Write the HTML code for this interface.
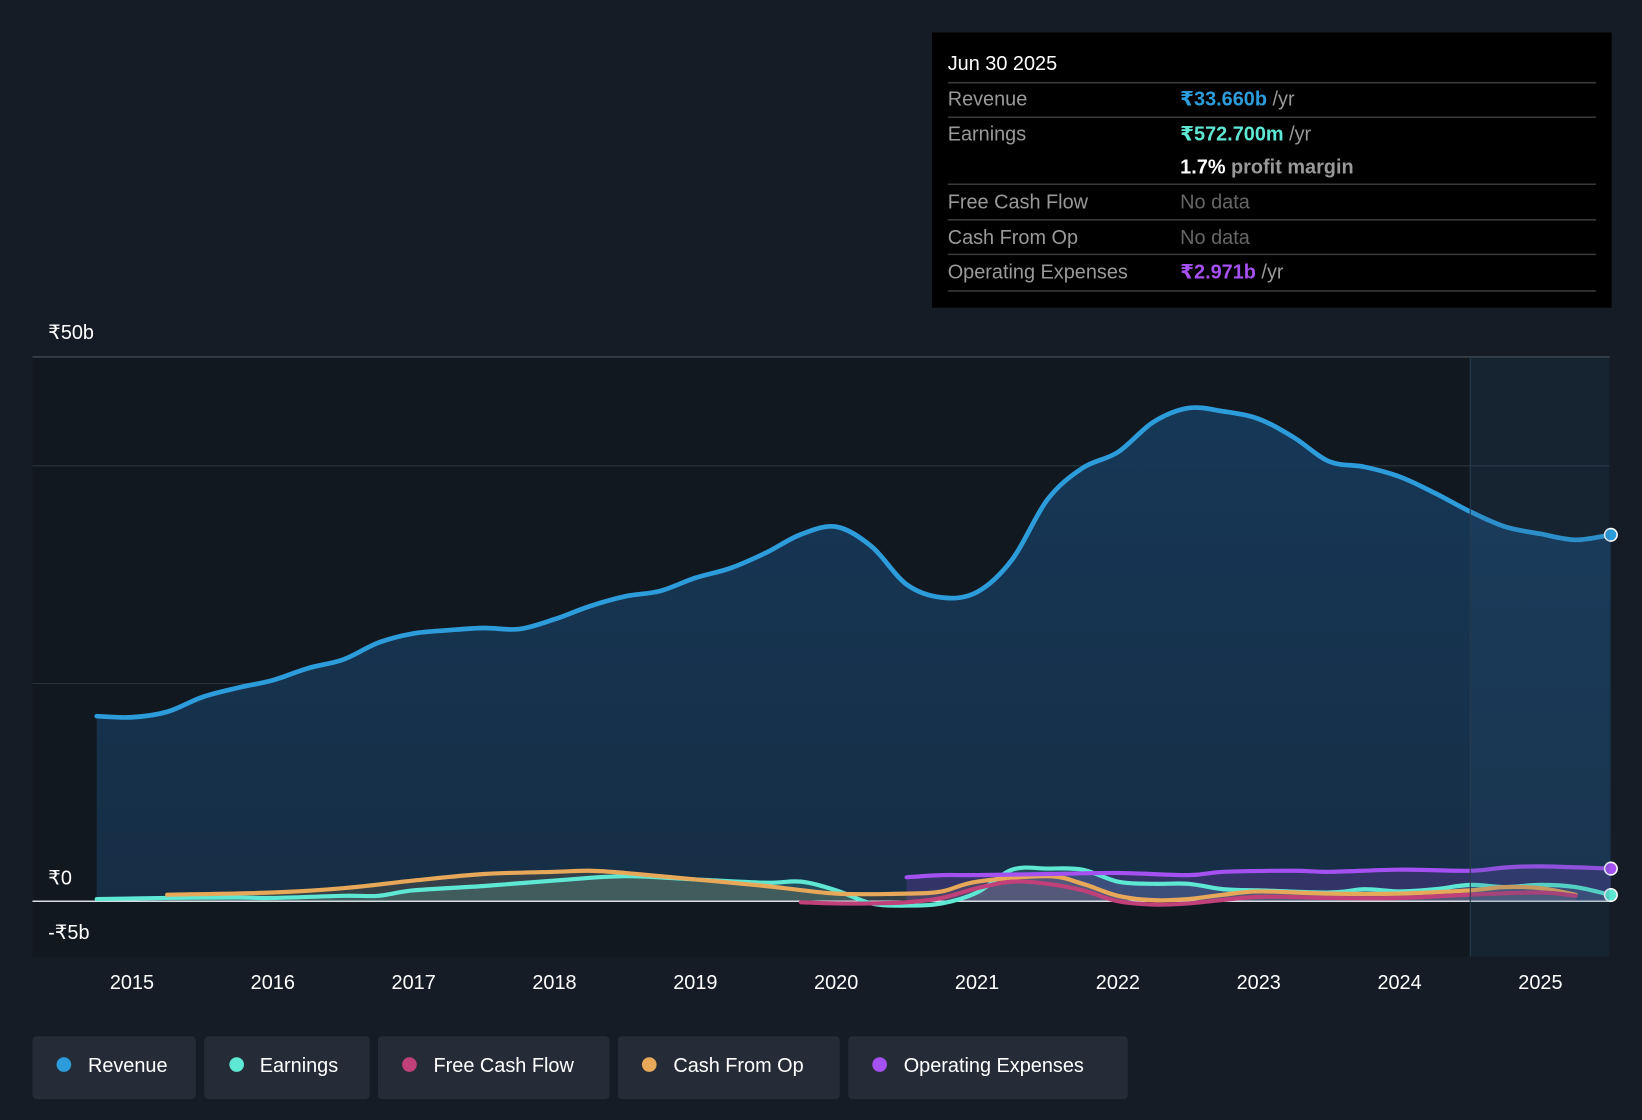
<!DOCTYPE html>
<html><head><meta charset="utf-8"><style>
html,body{margin:0;padding:0;background:#161c25;width:1642px;height:1120px;overflow:hidden}
svg text{font-family:"Liberation Sans","DejaVu Sans",sans-serif}
</style></head><body>
<svg id="chart" width="1642" height="1120" viewBox="0 0 1568 1070" preserveAspectRatio="none" xmlns="http://www.w3.org/2000/svg">
<defs>
<linearGradient id="revFill" x1="0" y1="0" x2="0" y2="1"><stop offset="0" stop-color="#17395a" stop-opacity="0.95"/><stop offset="1" stop-color="#163049" stop-opacity="0.9"/></linearGradient>
</defs>
<rect x="0" y="0" width="1568" height="1070" fill="#161c25"/>
<rect x="31" y="341" width="1506" height="573" fill="#121820"/>
<g id="grid"></g>
<g id="series"></g>
<rect x="1404" y="341" width="133" height="573" fill="#2a5a80" opacity="0.18"/>
<line x1="1404" y1="341" x2="1404" y2="914" stroke="#2a3b4c" stroke-width="1"/>
<g id="xaxis"></g>
<text x="46" y="324" fill="#fff" font-size="19">₹50b</text>
<text x="46" y="845" fill="#fff" font-size="19">₹0</text>
<text x="46" y="897" fill="#fff" font-size="19">-₹5b</text>

<g>
<rect x="890" y="31" width="649" height="263" fill="#000"/>
<text x="905" y="67" fill="#fff" font-size="19">Jun 30 2025</text>
<line x1="905" y1="79" x2="1524" y2="79" stroke="#3a3a3a" stroke-width="1.5"/>
<text x="905" y="101" fill="#999" font-size="19">Revenue</text>
<text x="1127" y="101" font-size="19" font-weight="bold" fill="#2d9cdb">₹33.660b <tspan fill="#999" font-weight="normal">/yr</tspan></text>
<line x1="905" y1="112" x2="1524" y2="112" stroke="#3a3a3a" stroke-width="1.5"/>
<text x="905" y="134" fill="#999" font-size="19">Earnings</text>
<text x="1127" y="134" font-size="19" font-weight="bold" fill="#5ee8d4">₹572.700m <tspan fill="#999" font-weight="normal">/yr</tspan></text>
<text x="1127" y="166" font-size="19" font-weight="bold" fill="#fff">1.7% <tspan fill="#999">profit margin</tspan></text>
<line x1="905" y1="176" x2="1524" y2="176" stroke="#3a3a3a" stroke-width="1.5"/>
<text x="905" y="199" fill="#999" font-size="19">Free Cash Flow</text>
<text x="1127" y="199" fill="#666" font-size="19">No data</text>
<line x1="905" y1="210" x2="1524" y2="210" stroke="#3a3a3a" stroke-width="1.5"/>
<text x="905" y="233" fill="#999" font-size="19">Cash From Op</text>
<text x="1127" y="233" fill="#666" font-size="19">No data</text>
<line x1="905" y1="243" x2="1524" y2="243" stroke="#3a3a3a" stroke-width="1.5"/>
<text x="905" y="266" fill="#999" font-size="19">Operating Expenses</text>
<text x="1127" y="266" font-size="19" font-weight="bold" fill="#a550f0">₹2.971b <tspan fill="#999" font-weight="normal">/yr</tspan></text>
<line x1="905" y1="278" x2="1524" y2="278" stroke="#3a3a3a" stroke-width="1.5"/>
</g>

<g>
<g><rect x="31" y="990" width="156" height="60" rx="4" fill="#262c37"/><circle cx="61" cy="1017" r="7" fill="#2d9cdb"/><text x="84" y="1024" fill="#fff" font-size="19">Revenue</text></g>
<g><rect x="195" y="990" width="158" height="60" rx="4" fill="#262c37"/><circle cx="226" cy="1017" r="7" fill="#5ee8d4"/><text x="248" y="1024" fill="#fff" font-size="19">Earnings</text></g>
<g><rect x="361" y="990" width="221" height="60" rx="4" fill="#262c37"/><circle cx="391" cy="1017" r="7" fill="#c0407a"/><text x="414" y="1024" fill="#fff" font-size="19">Free Cash Flow</text></g>
<g><rect x="590" y="990" width="212" height="60" rx="4" fill="#262c37"/><circle cx="620" cy="1017" r="7" fill="#e8a85a"/><text x="643" y="1024" fill="#fff" font-size="19">Cash From Op</text></g>
<g><rect x="810" y="990" width="267" height="60" rx="4" fill="#262c37"/><circle cx="840" cy="1017" r="7" fill="#a550f0"/><text x="863" y="1024" fill="#fff" font-size="19">Operating Expenses</text></g>
</g>
</svg>
<script>
const revYears=[2014.75,2015,2015.25,2015.5,2015.75,2016,2016.25,2016.5,2016.75,2017,2017.25,2017.5,2017.75,2018,2018.25,2018.5,2018.75,2019,2019.25,2019.5,2019.75,2020,2020.25,2020.5,2020.75,2021,2021.25,2021.5,2021.75,2022,2022.25,2022.5,2022.75,2023,2023.25,2023.5,2023.75,2024,2024.25,2024.5,2024.75,2025,2025.25,2025.5];
const revenue=[17.0,16.9,17.4,18.75,19.6,20.3,21.4,22.2,23.75,24.6,24.9,25.1,25.0,25.9,27.1,28.0,28.5,29.7,30.6,32.0,33.7,34.4,32.6,29.1,27.9,28.4,31.4,36.9,39.8,41.25,44.0,45.3,45.0,44.3,42.6,40.4,39.9,39.0,37.5,35.8,34.4,33.75,33.2,33.66];
const earnYears=[2014.75,2015.25,2015.75,2016,2016.5,2016.75,2017,2017.5,2018,2018.5,2019,2019.5,2019.75,2020,2020.25,2020.5,2020.75,2021,2021.25,2021.5,2021.75,2022,2022.25,2022.5,2022.75,2023,2023.5,2023.75,2024,2024.25,2024.5,2024.75,2025,2025.25,2025.5];
const earnings=[0.2,0.3,0.35,0.3,0.5,0.5,1.0,1.4,1.9,2.3,2.0,1.7,1.8,1.0,-0.2,-0.4,-0.2,0.8,2.9,3.0,2.9,1.8,1.6,1.6,1.1,1.0,0.8,1.1,0.9,1.1,1.5,1.3,1.5,1.3,0.57];
const cfoYears=[2015.25,2016,2016.5,2017,2017.5,2018,2018.25,2018.5,2019,2019.5,2020,2020.5,2020.75,2021,2021.5,2021.75,2022,2022.25,2022.5,2022.75,2023,2023.5,2024,2024.5,2024.75,2025,2025.25];
const cashFromOp=[0.6,0.8,1.2,1.9,2.5,2.7,2.8,2.6,2.0,1.4,0.7,0.7,0.9,1.8,2.3,1.6,0.5,0.1,0.2,0.6,0.9,0.7,0.7,1.0,1.3,1.2,0.6];
const fcfYears=[2019.75,2020,2020.25,2020.5,2020.75,2021,2021.25,2021.5,2021.75,2022,2022.25,2022.5,2023,2023.5,2024,2024.5,2025,2025.25];
const freeCashFlow=[-0.1,-0.2,-0.2,-0.1,0.3,1.2,1.8,1.6,1.0,0.0,-0.3,-0.2,0.4,0.3,0.3,0.6,0.8,0.5];
const opxYears=[2020.5,2020.75,2021,2021.5,2022,2022.5,2022.75,2023.25,2023.5,2024,2024.5,2024.75,2025,2025.5];
const opex=[2.2,2.4,2.4,2.5,2.6,2.4,2.7,2.8,2.7,2.9,2.8,3.1,3.2,3.0];
const xTicks=[2015,2016,2017,2018,2019,2020,2021,2022,2023,2024,2025];
const gridVals=[40,20];

const NS="http://www.w3.org/2000/svg";
const X=y=>126+(y-2015)*134.5;
const Y=v=>861-v*10.4;
function pathD(xs,vs){
  const p=xs.map((x,i)=>[X(x),Y(vs[i])]);
  let d=`M${p[0][0]},${p[0][1]}`;
  for(let i=0;i<p.length-1;i++){
    const p0=p[Math.max(0,i-1)],p1=p[i],p2=p[i+1],p3=p[Math.min(p.length-1,i+2)];
    const c1=[p1[0]+(p2[0]-p0[0])/6,p1[1]+(p2[1]-p0[1])/6];
    const c2=[p2[0]-(p3[0]-p1[0])/6,p2[1]-(p3[1]-p1[1])/6];
    d+=` C${c1[0]},${c1[1]} ${c2[0]},${c2[1]} ${p2[0]},${p2[1]}`;
  }
  return d;
}
const gridG=document.getElementById('grid');
gridVals.forEach(v=>{
  const l=document.createElementNS(NS,'line');
  
  
  l.setAttribute('x1',31);l.setAttribute('x2',1537);l.setAttribute('y1',Y(v));l.setAttribute('y2',Y(v));
  l.setAttribute('stroke','#2a323d');l.setAttribute('stroke-width','1');
  gridG.appendChild(l);
});
const topLine=document.createElementNS(NS,'line');


topLine.setAttribute('x1',31);topLine.setAttribute('x2',1537);topLine.setAttribute('y1',Y(50));topLine.setAttribute('y2',Y(50));
topLine.setAttribute('stroke','#4a525c');topLine.setAttribute('stroke-width','1');
gridG.appendChild(topLine);

const ser=document.getElementById('series');
function area(xs,vs,fill,name){
  const a=document.createElementNS(NS,'path');
  
  
  a.setAttribute('d',pathD(xs,vs)+` L${X(xs[xs.length-1])},${Y(0)} L${X(xs[0])},${Y(0)} Z`);
  a.setAttribute('fill',fill);
  ser.appendChild(a);
}
function line(xs,vs,color,name,w){
  const l=document.createElementNS(NS,'path');
  
  
  l.setAttribute('d',pathD(xs,vs));
  l.setAttribute('fill','none');l.setAttribute('stroke',color);l.setAttribute('stroke-width',w);
  l.setAttribute('stroke-linecap','round');
  ser.appendChild(l);
}
area(revYears,revenue,'url(#revFill)','revenue-area');
area(earnYears,earnings,'rgba(94,232,212,0.18)','earnings-area');
area(cfoYears,cashFromOp,'rgba(232,168,90,0.15)','cash-from-op-area');
area(opxYears,opex,'rgba(165,80,240,0.2)','opex-area');
const zeroLine=document.createElementNS(NS,'line');


zeroLine.setAttribute('x1',31);zeroLine.setAttribute('x2',1537);zeroLine.setAttribute('y1',Y(0));zeroLine.setAttribute('y2',Y(0));
zeroLine.setAttribute('stroke','#d8dde3');zeroLine.setAttribute('stroke-width','1.5');
ser.appendChild(zeroLine);
line(earnYears,earnings,'#5ee8d4','earnings-line',4);
line(cfoYears,cashFromOp,'#e8a85a','cash-from-op-line',4);
line(fcfYears,freeCashFlow,'#c0407a','free-cash-flow-line',4);
line(opxYears,opex,'#a550f0','opex-line',4);
line(revYears,revenue,'#2d9cdb','revenue-line',4.5);
[[revenue,'#2d9cdb','revenue-end-dot'],[earnings,'#5ee8d4','earnings-end-dot'],[opex,'#a550f0','opex-end-dot']].forEach(([arr,c,n])=>{
  const d=document.createElementNS(NS,'circle');
  
  
  d.setAttribute('cx',X(2025.5));d.setAttribute('cy',Y(arr[arr.length-1]));d.setAttribute('r',6);
  d.setAttribute('fill',c);d.setAttribute('stroke','#fff');d.setAttribute('stroke-width','1.5');
  ser.appendChild(d);
});
const xa=document.getElementById('xaxis');
xTicks.forEach(t=>{
  const tx=document.createElementNS(NS,'text');
  
  
  tx.setAttribute('x',X(t));tx.setAttribute('y',945);tx.setAttribute('fill','#fff');
  tx.setAttribute('font-size','19');tx.setAttribute('text-anchor','middle');
  tx.textContent=t;
  xa.appendChild(tx);
});
</script>
</body></html>
